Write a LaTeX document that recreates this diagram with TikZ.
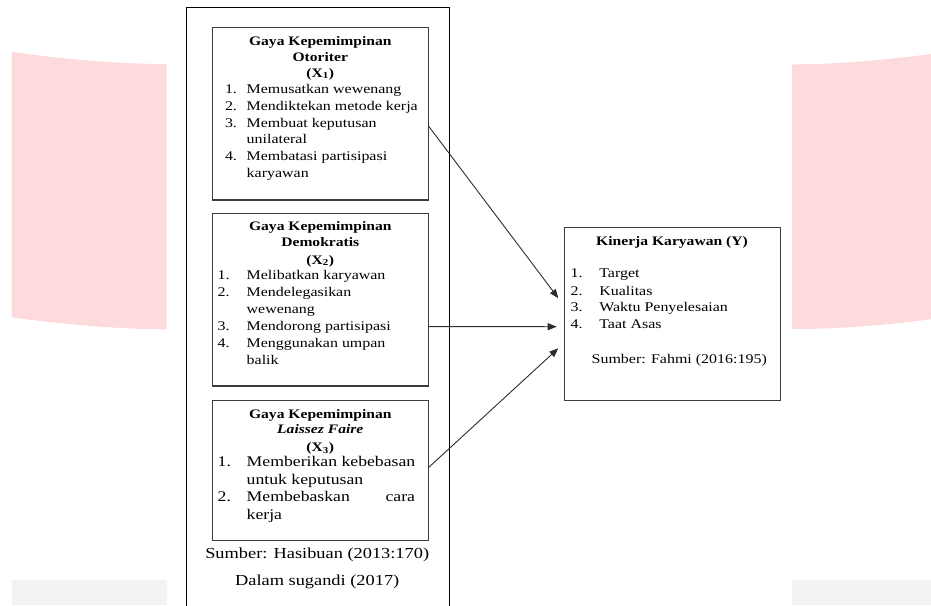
\documentclass[tikz,border=0pt]{standalone}
\usepackage{fontspec}
\setmainfont{Liberation Serif}[FakeStretch=1.2]
\usetikzlibrary{arrows.meta}
\definecolor{bgpink}{RGB}{253,219,220}
\definecolor{bggrey}{RGB}{243,243,243}
\definecolor{boxgray}{RGB}{60,60,60}
\definecolor{arrgray}{RGB}{45,45,45}
\begin{document}
\begin{tikzpicture}[x=1pt,y=-1pt,
  tx/.style={inner sep=0pt, outer sep=0pt, anchor=base west, font=\fontsize{13.3}{16}\selectfont},
  txl/.style={inner sep=0pt, outer sep=0pt, anchor=base west, font=\fontsize{14.75}{17}\selectfont},
  hd/.style={inner sep=0pt, outer sep=0pt, anchor=base, font=\fontsize{13}{16}\selectfont\bfseries},
  src/.style={inner sep=0pt, outer sep=0pt, anchor=base, font=\fontsize{15.3}{18}\selectfont},
  boxnode/.style={draw=boxgray, line width=1.2pt, inner sep=0pt, outer sep=0pt, anchor=north west},
  arr/.style={-{Triangle[length=9pt,width=7pt]}, line width=0.9pt, draw=arrgray}]
\useasboundingbox (0,0) rectangle (931,605);
% background watermark shapes
\fill[bgpink] (11.7,52) .. controls (60,58.5) and (115,64) .. (166.7,64)
  -- (166.7,329.3) .. controls (115,329.3) and (60,323.8) .. (11.7,317.3) -- cycle;
\fill[bgpink] (792,64.3) .. controls (843.7,64.3) and (887,59.5) .. (931,54)
  -- (931,319.3) .. controls (887,324.8) and (843.7,329) .. (792,329) -- cycle;
\fill[bggrey] (11.7,580) rectangle (166.7,605);
\fill[bggrey] (792,580) rectangle (931,605);
% outer frame (open at the bottom)
\draw[black, line width=1pt] (186.5,606) -- (186.5,7.3) -- (449.3,7.3) -- (449.3,606);
% boxes
\node[boxnode, minimum width=216pt, minimum height=172.3pt] (bx1) at (212.3,27.7) {};
\node[boxnode, minimum width=216pt, minimum height=172.7pt] (bx2) at (212.3,213.3) {};
\node[boxnode, minimum width=216pt, minimum height=139.9pt] (bx3) at (212.3,400.8) {};
\node[boxnode, minimum width=216.4pt, minimum height=173pt] (yb) at (564.3,227.7) {};
% X1 text
\node[hd] (h1a) at (320.3,45.7) {Gaya Kepemimpinan};
\node[hd] (h1b) at (320.3,61) {Otoriter};
\node[hd] (h1c) at (320.3,77) {(X\textsubscript{1})};
\node[tx] (n11) at (225,93) {1.};
\node[tx] (t11) at (246.7,93) {Memusatkan wewenang};
\node[tx] (n12) at (225,110) {2.};
\node[tx] (t12) at (246.7,110) {Mendiktekan metode kerja};
\node[tx] (n13) at (225,127) {3.};
\node[tx] (t13) at (246.7,127) {Membuat keputusan};
\node[tx] (t13b) at (246.7,143.5) {unilateral};
\node[tx] (n14) at (225,160) {4.};
\node[tx] (t14) at (246.7,160) {Membatasi partisipasi};
\node[tx] (t14b) at (246.7,177) {karyawan};
% X2 text
\node[hd] (h2a) at (320.3,230.7) {Gaya Kepemimpinan};
\node[hd] (h2b) at (320.3,246.7) {Demokratis};
\node[hd] (h2c) at (320.3,264) {(X\textsubscript{2})};
\node[tx] (n21) at (217.7,279.3) {1.};
\node[tx] (t21) at (246.7,279.3) {Melibatkan karyawan};
\node[tx] (n22) at (217.7,296) {2.};
\node[tx] (t22) at (246.7,296) {Mendelegasikan};
\node[tx] (t22b) at (246.7,313.3) {wewenang};
\node[tx] (n23) at (217.7,330) {3.};
\node[tx] (t23) at (246.7,330) {Mendorong partisipasi};
\node[tx] (n24) at (217.7,347.7) {4.};
\node[tx] (t24) at (246.7,347.7) {Menggunakan umpan};
\node[tx] (t24b) at (246.7,364) {balik};
% X3 text
\node[hd] (h3a) at (320.3,418.3) {Gaya Kepemimpinan};
\node[hd] (h3b) at (320.3,433.3) {\itshape Laissez Faire};
\node[hd] (h3c) at (320.3,451.7) {(X\textsubscript{3})};
\node[txl] (n31) at (217.7,466.7) {1.};
\node[txl] (t31) at (246.7,466.7) {Memberikan kebebasan};
\node[txl] (t31b) at (246.7,484.3) {untuk keputusan};
\node[txl] (n32) at (217.7,501.7) {2.};
\node[txl] (t32) at (246.7,501.7) {\hbox to 168.3pt{Membebaskan\hfill cara}};
\node[txl] (t32b) at (246.7,519.3) {kerja};
% sources
\node[src] (s1) at (317.2,558.3) {Sumber: Hasibuan (2013:170)};
\node[src] (s2) at (317.2,585) {Dalam sugandi (2017)};
% Y text
\node[hd] (hy) at (672,245.7) {Kinerja Karyawan (Y)};
\node[tx] (ny1) at (570.7,277.7) {1.};
\node[tx] (ty1) at (599.3,277.7) {Target};
\node[tx] (ny2) at (570.7,295) {2.};
\node[tx] (ty2) at (599.3,295) {Kualitas};
\node[tx] (ny3) at (570.7,311.7) {3.};
\node[tx] (ty3) at (599.3,311.7) {Waktu Penyelesaian};
\node[tx] (ny4) at (570.7,328.3) {4.};
\node[tx] (ty4) at (599.3,328.3) {Taat Asas};
\node[tx] (sy) at (591.7,363.3) {Sumber: Fahmi (2016:195)};
% arrows
\draw[arr] ([yshift=-11.85pt]bx1.east) -- ([xshift=-6pt,yshift=16pt]yb.west);
\draw[arr] ([yshift=-27pt]bx2.east) -- ([xshift=-7.6pt,yshift=-12.5pt]yb.west);
\draw[arr] ([yshift=3pt]bx3.east) -- ([xshift=-6pt,yshift=-34.1pt]yb.west);
\end{tikzpicture}
\end{document}
